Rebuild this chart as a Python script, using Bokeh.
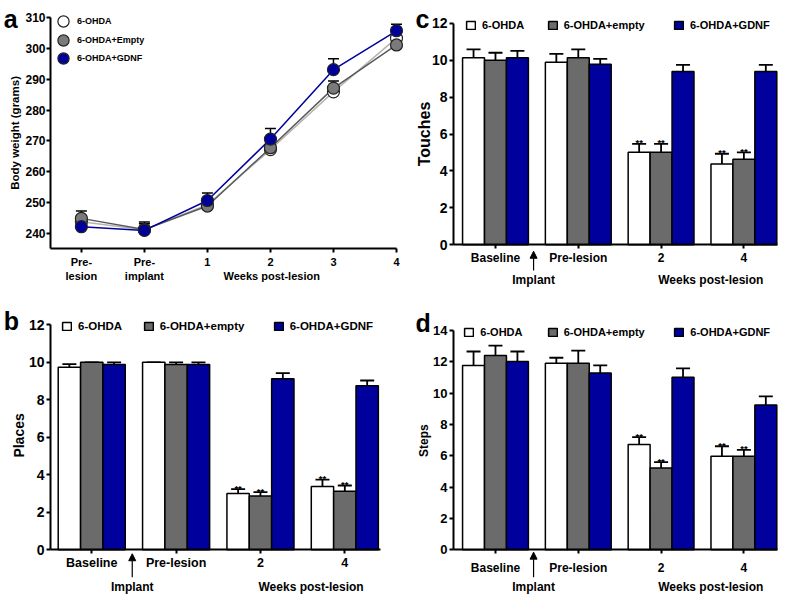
import math
from bokeh.plotting import figure
from bokeh.models import (ColumnDataSource, FixedTicker, Legend, LegendItem, Label,
                          Arrow, NormalHead, Range1d)
from bokeh.layouts import column, row
from bokeh.transform import dodge
from bokeh.core.properties import value
from bokeh.embed import file_html
from bokeh.resources import INLINE

FONT = "Liberation Sans"
WHITE, GREY, BLUE = "white", "#6b6b6b", "#00009c"

# ---------------- data ----------------
# Panel a: body weight
time_pos = [0, 1, 2, 3, 4, 5]
time_labels = ["Pre-\nlesion", "Pre-\nimplant", "1", "2", "3", "4"]
bw_ohda = [243.8, 241.2, 249.3, 267.2, 285.9, 303.3]
bw_ohda_err = [2.0, 2.0, 1.6, 1.8, 1.5, 2.0]
bw_empty = [244.9, 241.3, 248.9, 267.8, 287.1, 301.1]
bw_empty_err = [2.4, 2.4, 1.8, 1.5, 2.3, 1.5]
bw_gdnf = [242.2, 241.0, 250.7, 270.6, 293.1, 305.7]
bw_gdnf_err = [1.0, 1.4, 2.4, 3.4, 3.5, 2.1]

# Bar panels
group_pos = [0, 1, 2, 3]
group_labels = ["Baseline", "Pre-lesion", "2", "4"]
sig_ohda = ["", "", "**", "**"]
sig_empty = ["", "", "**", "**"]

places_ohda = [9.74, 10.0, 3.0, 3.38]
places_ohda_err = [0.16, 0.0, 0.24, 0.36]
places_empty = [10.0, 9.88, 2.87, 3.12]
places_empty_err = [0.0, 0.12, 0.21, 0.31]
places_gdnf = [9.88, 9.88, 9.12, 8.75]
places_gdnf_err = [0.12, 0.12, 0.30, 0.28]

touches_ohda = [10.13, 9.89, 5.01, 4.38]
touches_ohda_err = [0.45, 0.45, 0.46, 0.55]
touches_empty = [10.0, 10.13, 5.01, 4.63]
touches_empty_err = [0.40, 0.45, 0.46, 0.38]
touches_gdnf = [10.13, 9.78, 9.38, 9.38]
touches_gdnf_err = [0.37, 0.29, 0.36, 0.36]

steps_ohda = [11.77, 11.91, 6.73, 5.97]
steps_ohda_err = [0.89, 0.35, 0.46, 0.64]
steps_empty = [12.4, 11.91, 5.23, 5.98]
steps_empty_err = [0.64, 0.81, 0.37, 0.40]
steps_gdnf = [12.02, 11.28, 11.02, 9.25]
steps_gdnf_err = [0.64, 0.49, 0.56, 0.54]

series_names = ["6-OHDA", "6-OHDA+empty", "6-OHDA+GDNF"]
line_names = ["6-OHDA", "6-OHDA+Empty", "6-OHDA+GDNF"]


def frame_ranges(fig_left, fig_top, W, H, axl, axr, x_lo, x_hi, axt, axb, y_lo, y_hi):
    """Ranges so that the frame fills the whole figure while the axis box
    [axl..axr] x [axb..axt] (page pixels) maps onto [x_lo..x_hi] x [y_lo..y_hi]."""
    sx = (x_hi - x_lo) / (axr - axl)
    sy = (y_hi - y_lo) / (axb - axt)
    xr = Range1d(x_lo + (fig_left - axl) * sx, x_lo + (fig_left + W - axl) * sx)
    yr = Range1d(y_lo + (axb - (fig_top + H)) * sy, y_lo + (axb - fig_top) * sy)
    return xr, yr


def make_fig(W, H, xr, yr):
    p = figure(width=W, height=H, output_backend="svg", toolbar_location=None,
               x_range=xr, y_range=yr, min_border=0,
               min_border_left=0, min_border_right=0, min_border_top=0, min_border_bottom=0)
    p.xgrid.visible = False
    p.ygrid.visible = False
    p.outline_line_color = None
    return p


def style_axes(p, x_lo, x_hi, y_lo, y_hi, tick_fs, x_fs, tick_out=4, y_std=2, x_std=2):
    xa, ya = p.xaxis[0], p.yaxis[0]
    xa.fixed_location = y_lo
    ya.fixed_location = x_lo
    xa.bounds = (x_lo, x_hi)
    ya.bounds = (y_lo, y_hi)
    for ax in (xa, ya):
        ax.axis_line_width = 2
        ax.axis_line_color = "black"
        ax.major_tick_line_width = 2
        ax.major_tick_in = 0
        ax.major_tick_out = tick_out
        ax.minor_tick_line_color = None
        ax.major_label_text_font = FONT
        ax.major_label_text_font_style = "bold"
        ax.major_label_text_color = "black"
    ya.major_label_text_font_size = tick_fs
    ya.major_label_standoff = y_std
    xa.major_label_text_font_size = x_fs
    xa.major_label_standoff = x_std


def add_text(p, x, y, txt, size, align="center", baseline="middle", angle=0.0):
    p.add_layout(Label(x=x, y=y, text=txt, text_font=FONT, text_font_style="bold",
                       text_font_size=size, text_align=align, text_baseline=baseline,
                       text_color="black", angle=angle))


def one_legend(p, r, label, loc, gw, gh, fs, standoff):
    lg = Legend(items=[LegendItem(label=label, renderers=[r])], location=loc,
                orientation="vertical", glyph_width=gw, glyph_height=gh,
                label_height=gh, label_width=10, label_standoff=standoff,
                label_text_font=FONT, label_text_font_style="bold",
                label_text_font_size=fs, label_text_color="black",
                border_line_color=None, background_fill_alpha=0,
                padding=0, margin=0, spacing=0)
    p.add_layout(lg)


# ---------------- panel a ----------------
XA = (-0.49, 5.0)
YA = (235.14, 310)
xr, yr = frame_ranges(0, 0, 404, 290, 50, 396, XA[0], XA[1], 17, 248, YA[0], YA[1])
pa = make_fig(404, 290, xr, yr)
src_a = ColumnDataSource(dict(
    x=time_pos,
    ohda=bw_ohda, ohda_hi=[m + e for m, e in zip(bw_ohda, bw_ohda_err)],
    empty=bw_empty, empty_hi=[m + e for m, e in zip(bw_empty, bw_empty_err)],
    gdnf=bw_gdnf, gdnf_hi=[m + e for m, e in zip(bw_gdnf, bw_gdnf_err)],
))
for key in ("ohda", "empty", "gdnf"):
    pa.segment(x0="x", y0=key, x1="x", y1=key + "_hi", source=src_a, line_color="black", line_width=1.5)
    pa.scatter(x="x", y=key + "_hi", source=src_a, marker="dash", size=11, line_color="black", line_width=1.5)
pa.line(x="x", y="ohda", source=src_a, line_color="#b4b4b4", line_width=1.5)
pa.line(x="x", y="empty", source=src_a, line_color="#5a5a5a", line_width=1.5)
pa.line(x="x", y="gdnf", source=src_a, line_color=BLUE, line_width=1.5)
ra1 = pa.scatter(x="x", y="ohda", source=src_a, size=12, fill_color="white", line_color="#222222", line_width=1.2)
ra2 = pa.scatter(x="x", y="empty", source=src_a, size=12, fill_color="#7a7a7a", line_color="#222222", line_width=1.2)
ra3 = pa.scatter(x="x", y="gdnf", source=src_a, size=12, fill_color=BLUE, line_color="#222222", line_width=1.2)
style_axes(pa, XA[0], XA[1], YA[0], YA[1], "12px", "11px", tick_out=4, y_std=1, x_std=3)
pa.yaxis[0].ticker = FixedTicker(ticks=[240, 250, 260, 270, 280, 290, 300, 310])
pa.xaxis[0].ticker = FixedTicker(ticks=time_pos)
pa.xaxis[0].major_label_overrides = {i: t for i, t in zip(time_pos, time_labels)}
add_text(pa, -1.048, 272.6, "Body weight (grams)", "11.5px", angle=math.pi / 2)
add_text(pa, 3.02, 226.1, "Weeks post-lesion", "11px")
add_text(pa, -1.233, 309.6, "a", "25px", align="left", baseline="alphabetic")
for r, nm, loc in zip((ra1, ra2, ra3), line_names, ((49, 255), (49, 236.5), (49, 218))):
    one_legend(pa, r, nm, loc, 28, 28, "9px", -1)


# ---------------- bar panels ----------------
def bar_panel(fig_box, ax_box, xr_ax, ymax, yticks, ylabel, ylabel_xy, ohda, ohda_e, empty, empty_e,
              gdnf, gdnf_e, letter, letter_xy, leg_locs, fonts, arrow, implant_y, weeks_y, x_std):
    fl, ft, W, H = fig_box
    axl, axr, axt, axb = ax_box
    xr, yr = frame_ranges(fl, ft, W, H, axl, axr, xr_ax[0], xr_ax[1], axt, axb, 0, ymax)
    p = make_fig(W, H, xr, yr)
    src = ColumnDataSource(dict(
        x=group_pos,
        ohda=ohda, ohda_hi=[m + e for m, e in zip(ohda, ohda_e)],
        empty=empty, empty_hi=[m + e for m, e in zip(empty, empty_e)],
        gdnf=gdnf, gdnf_hi=[m + e for m, e in zip(gdnf, gdnf_e)],
        sig_ohda=sig_ohda, sig_empty=sig_empty,
    ))
    w = 0.265
    rends = []
    for key, off, col in (("ohda", -w, WHITE), ("empty", 0.0, GREY), ("gdnf", w, BLUE)):
        xs = dodge("x", off, range=p.x_range)
        p.segment(x0=xs, y0=key, x1=xs, y1=key + "_hi", source=src, line_color="black", line_width=1.8)
        p.scatter(x=xs, y=key + "_hi", source=src, marker="dash", size=14, line_color="black", line_width=1.8)
        r = p.vbar(x=xs, top=key, width=w, bottom=0, source=src, fill_color=col,
                   line_color="black", line_width=1.5)
        rends.append(r)
        if key in ("ohda", "empty"):
            p.text(x=xs, y=key + "_hi", text="sig_" + key, source=src, text_font=value(FONT),
                   text_font_size="9.5px", text_font_style="bold", text_align="center",
                   text_baseline="alphabetic", y_offset=-1, text_color="black")
    tick_fs, title_fs, x_fs, leg_fs, ann_fs = fonts
    style_axes(p, xr_ax[0], xr_ax[1], 0, ymax, tick_fs, x_fs, tick_out=4, y_std=2, x_std=x_std)
    p.yaxis[0].ticker = FixedTicker(ticks=yticks)
    p.xaxis[0].ticker = FixedTicker(ticks=group_pos)
    p.xaxis[0].major_label_overrides = {i: t for i, t in zip(group_pos, group_labels)}
    add_text(p, ylabel_xy[0], ylabel_xy[1], ylabel, title_fs, angle=math.pi / 2)
    ax_x, ay0, ay1 = arrow
    p.add_layout(Arrow(end=NormalHead(size=7, fill_color="black", line_color="black"),
                       x_start=ax_x, y_start=ay0, x_end=ax_x, y_end=ay1,
                       line_width=1.2, line_color="black"))
    add_text(p, ax_x, implant_y, "Implant", ann_fs)
    add_text(p, 2.6, weeks_y, "Weeks post-lesion", ann_fs)
    add_text(p, letter_xy[0], letter_xy[1], letter, "25px", align="left", baseline="alphabetic")
    for r, nm, loc in zip(rends, series_names, leg_locs):
        one_legend(p, r, nm, loc, 11, 10, leg_fs, 6)
    return p


BOT_H = 306
pc = bar_panel((404, 0, 375, 290), (453, 777, 22.7, 244.3), (-0.507, 3.406), 12,
               [0, 2, 4, 6, 8, 10, 12], "Touches", (-0.861, 6.0),
               touches_ohda, touches_ohda_err, touches_empty, touches_empty_err,
               touches_gdnf, touches_gdnf_err, "c", (-0.966, 12.24),
               [(61, 259.3), (142.7, 259.3), (269, 259.3)],
               ("14px", "16px", "12px", "11px", "12px"), (0.46, -1.39, -0.35), -1.93, -1.93, 2)

pb = bar_panel((0, 290, 404, BOT_H), (50, 380, 324.3, 549.3), (-0.489, 3.423), 12,
               [0, 2, 4, 6, 8, 10, 12], "Places", (-0.865, 6.1),
               places_ohda, places_ohda_err, places_empty, places_empty_err,
               places_gdnf, places_gdnf_err, "b", (-1.043, 12.19),
               [(61, 259 + BOT_H - 301), (142.7, 259 + BOT_H - 301), (272.7, 259 + BOT_H - 301)],
               ("14px", "14px", "12.5px", "11.5px", "12px"), (0.48, -1.46, -0.21), -1.99, -1.99, 2)

pd = bar_panel((404, 290, 375, BOT_H), (453, 777, 330, 549.3), (-0.507, 3.406), 14,
               [0, 2, 4, 6, 8, 10, 12, 14], "Steps", (-0.861, 6.97),
               steps_ohda, steps_ohda_err, steps_empty, steps_empty_err,
               steps_gdnf, steps_gdnf_err, "d", (-0.966, 14.47),
               [(59.3, 252.7 + BOT_H - 301), (142.7, 252.7 + BOT_H - 301), (269.3, 252.7 + BOT_H - 301)],
               ("13px", "12px", "12px", "11px", "12px"), (0.46, -1.75, -0.15), -2.39, -2.39, 7)

layout = column(row(pa, pc), row(pb, pd))
open("out.html", "w").write(file_html(layout, INLINE))
